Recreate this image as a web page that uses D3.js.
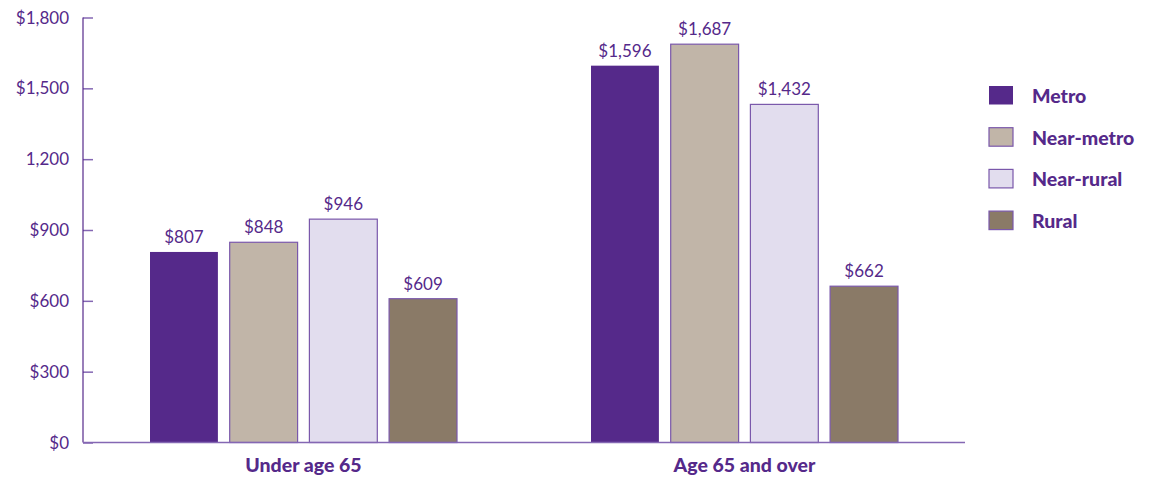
<!DOCTYPE html>
<html>
<head>
<meta charset="utf-8">
<script src="https://cdn.jsdelivr.net/npm/d3@7"></script>
<style>
  body { margin: 0; background: #fff; }
  text { font-family: Lato, "Open Sans", sans-serif; fill: #55298a; }
</style>
</head>
<body>
<svg id="chart" width="1156" height="477"></svg>
<script>
var groups = ['Under age 65', 'Age 65 and over'];
var regions = ['Metro', 'Near-metro', 'Near-rural', 'Rural'];
var under65 = [807, 848, 946, 609];
var over65 = [1596, 1687, 1432, 662];
var yTicks = [0, 300, 600, 900, 1200, 1500, 1800];
var tickLabels = ['$0', '$300', '$600', '$900', '1,200', '$1,500', '$1,800'];
var colors = ['#55298a', '#c1b5a8', '#e2ddee', '#8a7a67'];

var svg = d3.select('#chart');
var purple = '#55298a';
var lineColor = '#8467b3';

var data = [];
groups.forEach(function(g, i) {
  var vals = i === 0 ? under65 : over65;
  regions.forEach(function(r, j) {
    data.push({group: g, region: r, value: vals[j]});
  });
});

var x0 = d3.scaleBand().domain(groups).range([83, 965]);
var x1 = d3.scaleBand().domain(regions).range([0, 307]).paddingInner(0.148);
var y = d3.scaleLinear().domain([0, 1800]).range([442.5, 17.5]);
var color = d3.scaleOrdinal().domain(regions).range(colors);

// bars
svg.selectAll('.bar')
  .data(data)
  .enter().append('rect')
  .attr('class', 'bar')
  .attr('x', function(d) { return x0(d.group) + (x0.bandwidth() - 307) / 2 + x1(d.region); })
  .attr('y', function(d) { return y(d.value); })
  .attr('width', x1.bandwidth())
  .attr('height', function(d) { return y(0) - y(d.value); })
  .style('fill', function(d) { return color(d.region); })
  .style('stroke', function(d) { return d.region === 'Metro' ? 'none' : '#7a58ab'; })
  .style('stroke-width', 1.2);

svg.selectAll('.val')
  .data(data)
  .enter().append('text')
  .attr('class', 'val')
  .attr('x', function(d) { return x0(d.group) + (x0.bandwidth() - 307) / 2 + x1(d.region) + x1.bandwidth() / 2; })
  .attr('y', function(d) { return y(d.value) - 9; })
  .attr('text-anchor', 'middle')
  .style('font-size', '17px')
  .text(function(d) { return '$' + d3.format(',')(d.value); });

// y axis
var yAxis = d3.axisRight(y).tickValues(yTicks).tickSize(10).tickFormat('');
var gy = svg.append('g').attr('transform', 'translate(83,0)').call(yAxis);
gy.select('.domain').remove();
gy.selectAll('.tick line').style('stroke', lineColor).style('stroke-width', 1.5);
svg.append('line')
  .attr('x1', 83).attr('x2', 83)
  .attr('y1', y(1800)).attr('y2', y(0))
  .style('stroke', purple).style('stroke-width', 1.2);

svg.selectAll('.ylab')
  .data(yTicks)
  .enter().append('text')
  .attr('class', 'ylab')
  .attr('x', 69)
  .attr('y', function(d) { return y(d) + 6; })
  .attr('text-anchor', 'end')
  .style('font-size', '17px')
  .text(function(d, i) { return tickLabels[i]; });

// x axis
svg.append('line')
  .attr('x1', 83).attr('x2', 965)
  .attr('y1', y(0)).attr('y2', y(0))
  .style('stroke', lineColor).style('stroke-width', 1.5);

svg.selectAll('.xlab')
  .data(groups)
  .enter().append('text')
  .attr('class', 'xlab')
  .attr('x', function(d) { return x0(d) + x0.bandwidth() / 2; })
  .attr('y', 472)
  .attr('text-anchor', 'middle')
  .style('font-size', '19.5px')
  .style('font-weight', 900)
  .text(function(d) { return d; });

// legend
var legend = svg.selectAll('.legend')
  .data(regions)
  .enter().append('g')
  .attr('class', 'legend')
  .attr('transform', function(d, i) { return 'translate(989,' + (86 + i * 41.7) + ')'; });

legend.append('rect')
  .attr('width', 24)
  .attr('height', 18.5)
  .style('fill', function(d) { return color(d); })
  .style('stroke', function(d) { return d === 'Metro' ? 'none' : '#7a58ab'; })
  .style('stroke-width', 1.2);

legend.append('text')
  .attr('x', 43)
  .attr('y', 17)
  .style('font-size', '19.5px')
  .style('font-weight', 900)
  .text(function(d) { return d; });
</script>
</body>
</html>
